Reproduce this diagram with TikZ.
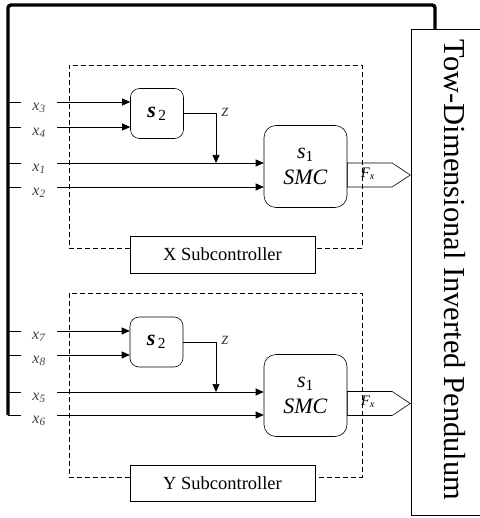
\documentclass[tikz,border=0pt]{standalone}
\usepackage{fontspec}
\setmainfont{Liberation Serif}
\usepackage{tikz}
\usetikzlibrary{positioning, arrows.meta, shapes.symbols, calc}

\newcommand{\xin}[1]{\textit{x}\textsubscript{\textit{#1}}}
\newcommand{\fsz}[1]{\fontsize{#1}{1.2\dimexpr#1pt\relax}\selectfont}

\tikzset{
  blk/.style={draw, rounded corners=9pt, inner sep=0pt, minimum width=53pt, minimum height=50pt, font=\fsz{22}},
  smc/.style={draw, rounded corners=12pt, inner sep=0pt, minimum width=83pt, minimum height=82pt, font=\fsz{22}, align=center},
  subbox/.style={draw, fill=white, minimum width=185pt, minimum height=37pt, font=\fsz{18.5}},
  inlbl/.style={minimum width=35pt, inner sep=0pt, font=\fsz{16}, text=black!75},
  zlbl/.style={font=\fsz{18}, text=black!75},
  sig/.style={-{Triangle[length=8pt,width=7pt]}},
  outsig/.style={draw, signal, signal to=east, signal pointer angle=67, outer sep=0pt, inner sep=0pt, minimum width=63pt, minimum height=24pt, anchor=west},
  dashbox/.style={dash pattern=on 5pt off 3pt},
  bus/.style={line width=3.4pt, rounded corners=3pt}
}

\begin{document}
\begin{tikzpicture}[x=1pt, y=-1pt, line width=0.6pt]
      \useasboundingbox (0,0) rectangle (479,518);

      % Plant
      \node[draw, minimum width=70pt, minimum height=486pt, anchor=north west] (pend) at (411,29) {};
      \node[rotate=-90, font=\fsz{30.5}] (pendtxt) at (455,270) {Tow-Dimensional Inverted Pendulum};

      % X subcontroller
      \node[blk] (s2x) at (157,113.5) {\textbf{\textit{s}}\textsubscript{\,2}};
      \node[smc] (s1x) at (305.5,166.5) {\textit{s}\textsubscript{1}\\[-1pt]\textit{SMC}};
      \node[subbox] (xsub) at (222.5,254.5) {X Subcontroller};

      % Y subcontroller
      \node[blk] (s2y) at (156.5,342) {\textbf{\textit{s}}\textsubscript{\,2}};
      \node[smc] (s1y) at (305.5,395.5) {\textit{s}\textsubscript{1}\\[-1pt]\textit{SMC}};
      \node[subbox, minimum height=36pt] (ysub) at (222.5,483) {Y Subcontroller};

      % Inputs from the state bus
      \foreach \i/\yy/\dst in {3/102/s2x, 4/127/s2x, 1/163/s1x, 2/187/s1x,
                               7/331/s2y, 8/355/s2y, 5/392/s1y, 6/415/s1y} {
        \coordinate (b\i) at (8,\yy);
        \node[inlbl] (l\i) at (39,\yy+6) {\xin{\i}};
        \draw (b\i) -- (l\i.west |- b\i);
        \draw[sig] (l\i.east |- b\i) -- (\dst.west |- b\i);
      }

      % Bus back from the pendulum
      \draw[bus] (b6) -- (8,5) -| (pend.north -| 435,0);

      % z feeds
      \coordinate (zx) at (216,163);
      \coordinate (zy) at (216,392);
      \draw[sig] (s2x.east) -| (zx);
      \draw[sig] (s2y.east) -| (zy);
      \node[zlbl] (zlx) at (225,112) {\textit{z}};
      \node[zlbl] (zly) at (225,340) {\textit{z}};

      % Outputs
      \node[outsig] (fx) at ($(s1x.east |- b1)!0.5!(s1x.east |- b2)$) {};
      \node[outsig] (fy) at ($(s1y.east |- b5)!0.5!(s1y.east |- b6)$) {};
      \node[font=\fsz{14.5}] (fxl) at (368,174) {\textit{F}\textsubscript{\textit{x}}};
      \node[font=\fsz{14.5}] (fyl) at (368,402) {\textit{F}\textsubscript{\textit{x}}};

      % Subcontroller borders
      \draw[dashbox] (xsub.west |- 0,248) -| (69,65) -| (362,248) -- (xsub.east |- 0,248);
      \draw[dashbox] (ysub.west |- 0,477) -| (69,293) -| (362,477) -- (ysub.east |- 0,477);
\end{tikzpicture}
\end{document}
